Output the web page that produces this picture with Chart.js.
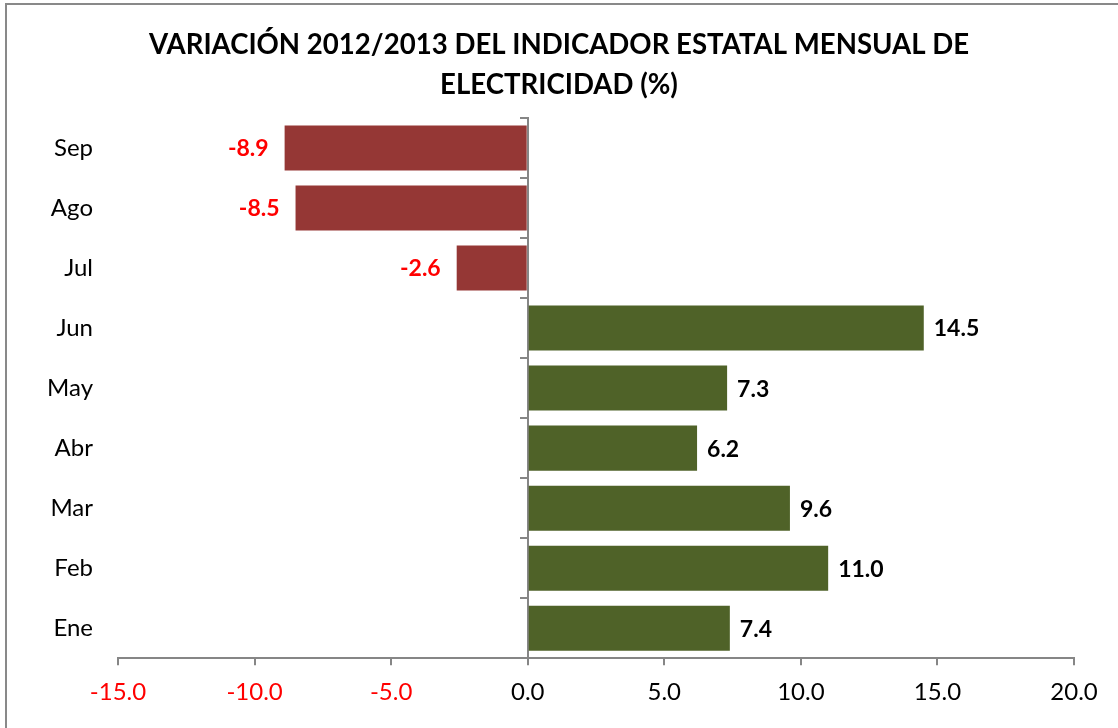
<!DOCTYPE html>
<html><head><meta charset="utf-8">
<script src="https://cdn.jsdelivr.net/npm/chart.js@4"></script>
<style>
html,body{margin:0;padding:0;background:#fff;overflow:hidden}
#wrap{position:absolute;left:0;top:0;width:1118px;height:728px;overflow:hidden}
#frame{position:absolute;left:5px;top:3px;width:1200px;height:800px;border-left:2px solid #898989;border-top:2px solid #898989;box-sizing:border-box}
canvas{position:absolute;left:0;top:0}
</style></head><body>
<div id="wrap"><div id="frame"></div><canvas id="c" width="1118" height="728"></canvas></div>
<script>
// ---- data ----
const categories = ['Sep','Ago','Jul','Jun','May','Abr','Mar','Feb','Ene'];
const values = [-8.9, -8.5, -2.6, 14.5, 7.3, 6.2, 9.6, 11.0, 7.4];
const titleLines = ['VARIACIÓN 2012/2013 DEL INDICADOR ESTATAL MENSUAL DE', 'ELECTRICIDAD (%)'];
const xMin = -15, xMax = 20, xStep = 5;

// ---- styles ----
const FONT = 'Lato';
const NEG_COLOR = '#953735';
const POS_COLOR = '#4F6228';
const AXIS_COLOR = '#868686';

const valueLabels = {
  id: 'valueLabels',
  afterDatasetsDraw(chart) {
    const ctx = chart.ctx;
    const meta = chart.getDatasetMeta(0);
    ctx.save();
    ctx.font = 'bold 23px ' + FONT;
    ctx.textBaseline = 'middle';
    meta.data.forEach((bar, i) => {
      const v = values[i];
      const t = v.toFixed(1);
      if (v < 0) {
        ctx.fillStyle = '#FF0000';
        ctx.textAlign = 'right';
        ctx.fillText(t, bar.x - 16, bar.y + 1);
      } else {
        ctx.fillStyle = '#000000';
        ctx.textAlign = 'left';
        ctx.fillText(t, bar.x + 10, bar.y + 1);
      }
    });
    ctx.restore();
  }
};

new Chart(document.getElementById('c'), {
  type: 'bar',
  data: {
    labels: categories,
    datasets: [{
      data: values,
      backgroundColor: c => (c.raw < 0 ? NEG_COLOR : POS_COLOR),
      borderWidth: 0,
      categoryPercentage: 0.75,
      barPercentage: 1,
      yAxisID: 'y'
    }]
  },
  options: {
    indexAxis: 'y',
    responsive: false,
    animation: false,
    layout: { padding: { top: 0, left: 44, right: 44, bottom: 8 } },
    plugins: {
      legend: { display: false },
      tooltip: { enabled: false },
      title: {
        display: true,
        text: titleLines,
        color: '#000',
        font: { family: FONT, size: 27.6, weight: 'bold', lineHeight: 40 / 27.6 },
        padding: { top: 25, bottom: 13 }
      }
    },
    scales: {
      x: {
        type: 'linear',
        min: xMin, max: xMax,
        ticks: {
          stepSize: xStep,
          callback: v => v.toFixed(1),
          color: c => (c.tick.value < 0 ? '#FF0000' : '#000000'),
          font: { family: FONT, size: 24 },
          padding: 13
        },
        grid: { drawOnChartArea: false, drawTicks: true, tickLength: 7, color: AXIS_COLOR, lineWidth: 2 },
        border: { color: AXIS_COLOR, width: 2 }
      },
      y: {
        type: 'category',
        grid: { display: false, drawTicks: false },
        border: { display: false },
        ticks: { crossAlign: 'near', padding: 25, color: '#000', font: { family: FONT, size: 24 } },
        afterFit: s => { s.width = 74; }
      },
      y2: {
        axis: 'y',
        type: 'category',
        labels: categories,
        position: { x: 0 },
        offset: true,
        grid: { offset: true, drawOnChartArea: false, drawTicks: true, tickLength: 7, color: AXIS_COLOR, lineWidth: 2 },
        border: { color: AXIS_COLOR, width: 2 },
        ticks: { display: false }
      }
    }
  },
  plugins: [valueLabels]
});
</script>
</body></html>
